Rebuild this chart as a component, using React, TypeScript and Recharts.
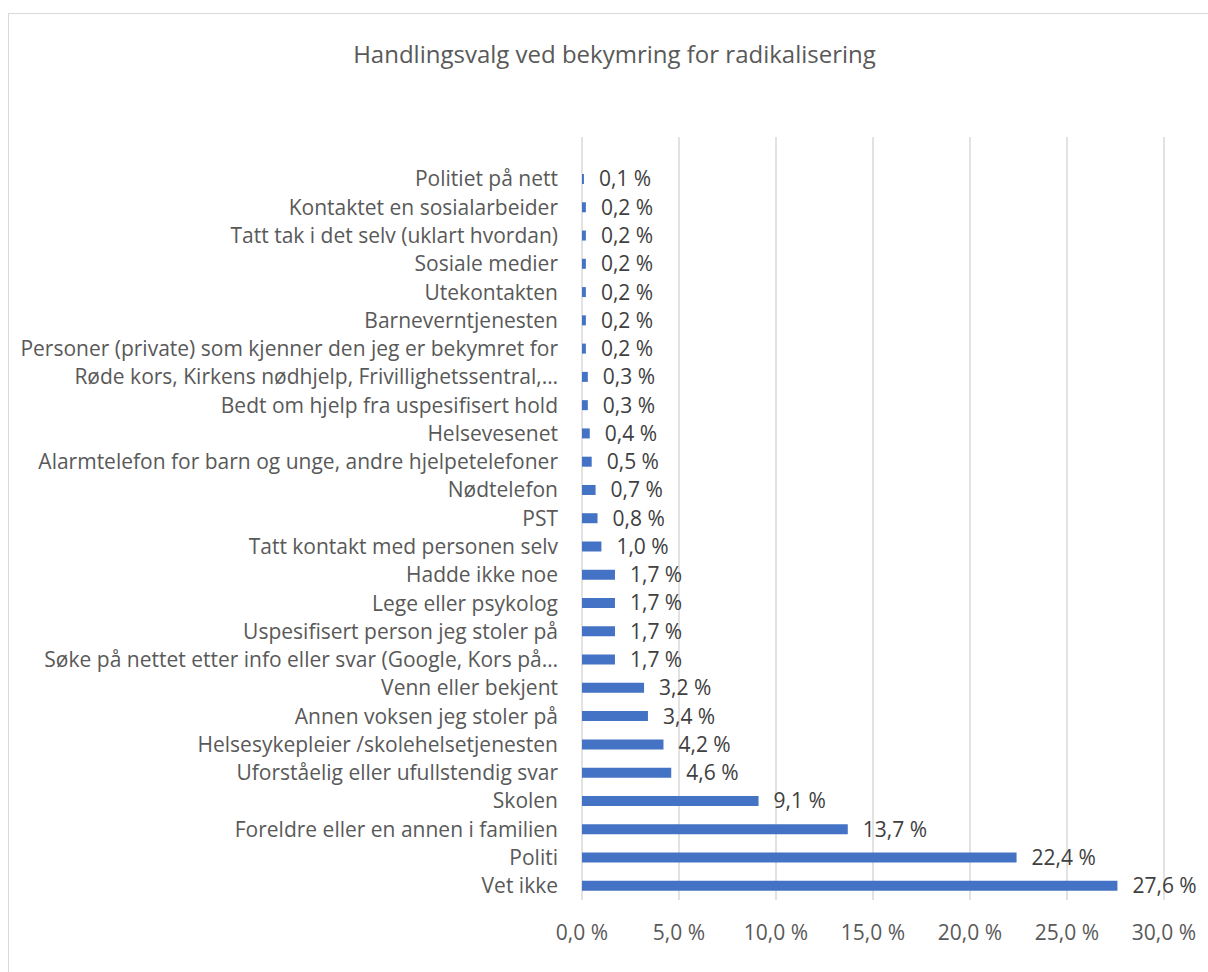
import { BarChart, Bar, XAxis, YAxis, CartesianGrid, LabelList } from "recharts";

const categories = [
  "Politiet på nett",
  "Kontaktet en sosialarbeider",
  "Tatt tak i det selv (uklart hvordan)",
  "Sosiale medier",
  "Utekontakten",
  "Barneverntjenesten",
  "Personer (private) som kjenner den jeg er bekymret for",
  "Røde kors, Kirkens nødhjelp, Frivillighetssentral,…",
  "Bedt om hjelp fra uspesifisert hold",
  "Helsevesenet",
  "Alarmtelefon for barn og unge, andre hjelpetelefoner",
  "Nødtelefon",
  "PST",
  "Tatt kontakt med personen selv",
  "Hadde ikke noe",
  "Lege eller psykolog",
  "Uspesifisert person jeg stoler på",
  "Søke på nettet etter info eller svar (Google, Kors på…",
  "Venn eller bekjent",
  "Annen voksen jeg stoler på",
  "Helsesykepleier /skolehelsetjenesten",
  "Uforståelig eller ufullstendig svar",
  "Skolen",
  "Foreldre eller en annen i familien",
  "Politi",
  "Vet ikke",
];

const shares = [
  0.1, 0.2, 0.2, 0.2, 0.2, 0.2, 0.2, 0.3, 0.3, 0.4, 0.5, 0.7, 0.8, 1.0, 1.7,
  1.7, 1.7, 1.7, 3.2, 3.4, 4.2, 4.6, 9.1, 13.7, 22.4, 27.6,
];

const xTicks = [0, 5, 10, 15, 20, 25, 30];

const data = categories.map((name, i) => ({ name, value: shares[i] }));

const fmt = (v: number) => v.toFixed(1).replace(".", ",") + " %";

const FONT = "'Open Sans', sans-serif";

function CategoryTick(props: any) {
  const { x, y, payload } = props;
  return (
    <text
      x={x}
      y={y}
      dy="0.35em"
      textAnchor="end"
      fill="#595959"
      fontSize={21}
      fontFamily={FONT}
    >
      {payload.value}
    </text>
  );
}

export default function App() {
  return (
    <div
      style={{
        position: "absolute",
        left: 0,
        top: 0,
        width: 1208,
        height: 972,
        overflow: "hidden",
        background: "#fff",
      }}
    >
      <div
        style={{
          position: "absolute",
          left: 8,
          top: 13,
          width: 1220,
          height: 980,
          border: "1.5px solid #d9d9d9",
        }}
      />
      <div
        style={{
          position: "absolute",
          left: 0,
          top: 37,
          width: 1229,
          textAlign: "center",
          fontFamily: FONT,
          fontSize: 24,
          color: "#595959",
        }}
      >
        Handlingsvalg ved bekymring for radikalisering
      </div>
      <div style={{ position: "absolute", left: 0, top: 0 }}>
        <BarChart
          width={1208}
          height={972}
          data={data}
          layout="vertical"
          margin={{ top: 137, right: 44, bottom: 32, left: 0 }}
        >
          <CartesianGrid horizontal={false} stroke="#d9d9d9" strokeWidth={1.5} />
          <XAxis
            type="number"
            domain={[0, 30]}
            ticks={xTicks}
            tickFormatter={fmt}
            axisLine={false}
            tickLine={false}
            height={40}
            tickSize={0}
            tickMargin={25}
            tick={{ fill: "#595959", fontSize: 21, fontFamily: FONT }}
          />
          <YAxis
            type="category"
            dataKey="name"
            width={582}
            axisLine={false}
            tickLine={false}
            tickSize={0}
            tickMargin={24}
            padding={{ top: 28, bottom: 0 }}
            interval={0}
            tick={<CategoryTick />}
          />
          <Bar dataKey="value" fill="#4472C4" barSize={10} isAnimationActive={false}>
            <LabelList
              dataKey="value"
              position="right"
              offset={15}
              formatter={(v: any) => fmt(Number(v))}
              fill="#404040"
              fontSize={21}
              fontFamily={FONT}
            />
          </Bar>
        </BarChart>
      </div>
    </div>
  );
}
